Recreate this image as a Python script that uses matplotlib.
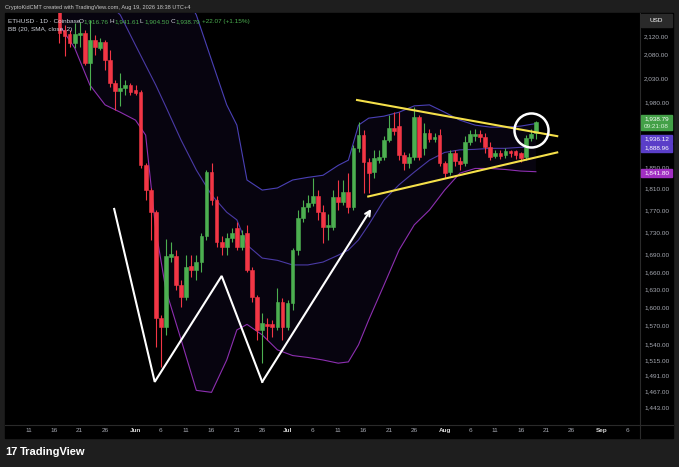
import matplotlib
matplotlib.use('Agg')
import matplotlib.pyplot as plt
import matplotlib.dates as mdates
from matplotlib.patches import Rectangle
from matplotlib.lines import Line2D
from matplotlib.ticker import FixedLocator, FixedFormatter, NullLocator
import numpy as np
import pandas as pd

plt.rcParams['font.family'] = ['Liberation Sans', 'DejaVu Sans']

# daily candles, 2026-05-17 .. 2026-08-19
start = '2026-05-17'
opens = [2185, 2133, 2124, 2105, 2122, 2127, 2061, 2111, 2094, 2107,
         2068, 2019, 2003, 2009, 2015, 2004, 2001, 1854, 1807, 1766,
         1582, 1568, 1686, 1687, 1637, 1617, 1670, 1663, 1677, 1723,
         1842, 1788, 1712, 1703, 1720, 1737, 1703, 1728, 1663, 1617,
         1563, 1573, 1572, 1568, 1609, 1568, 1607, 1698, 1755, 1776,
         1783, 1796, 1766, 1739, 1739, 1794, 1785, 1803, 1776, 1887,
         1913, 1860, 1841, 1864, 1870, 1903, 1927, 1931, 1874, 1858,
         1870, 1949, 1887, 1917, 1905, 1913, 1858, 1841, 1877, 1862,
         1858, 1899, 1911, 1915, 1909, 1890, 1872, 1877, 1874, 1881,
         1881, 1877, 1870, 1907, 1916.76]
closes = [2127, 2120, 2105, 2124, 2127, 2061, 2111, 2096, 2107, 2068,
          2019, 2003, 2009, 2015, 2001, 1998, 1854, 1807, 1766, 1582,
          1568, 1687, 1691, 1637, 1617, 1668, 1663, 1677, 1723, 1842,
          1788, 1712, 1703, 1720, 1728, 1703, 1725, 1663, 1617, 1563,
          1575, 1570, 1568, 1609, 1568, 1607, 1698, 1755, 1776, 1783,
          1796, 1766, 1739, 1743, 1794, 1785, 1803, 1776, 1887, 1913,
          1860, 1839, 1868, 1870, 1903, 1927, 1921, 1874, 1858, 1870,
          1949, 1870, 1917, 1905, 1909, 1858, 1839, 1877, 1862, 1856,
          1899, 1915, 1915, 1909, 1890, 1870, 1877, 1872, 1881, 1877,
          1874, 1868, 1907, 1915, 1938.79]
highs = [2195, 2144, 2133, 2149, 2151, 2133, 2155, 2122, 2116, 2111,
         2089, 2025, 2040, 2025, 2019, 2015, 2004, 1858, 1811, 1770,
         1587, 1718, 1712, 1698, 1646, 1689, 1689, 1689, 1728, 1845,
         1858, 1796, 1723, 1728, 1737, 1748, 1734, 1743, 1668, 1620,
         1591, 1582, 1579, 1632, 1616, 1612, 1702, 1770, 1788, 1798,
         1830, 1807, 1780, 1762, 1807, 1826, 1826, 1839, 1893, 1939,
         1923, 1868, 1884, 1884, 1911, 1953, 1960, 1960, 1879, 1877,
         1970, 1953, 1937, 1925, 1917, 1925, 1862, 1884, 1884, 1870,
         1911, 1923, 1925, 1923, 1917, 1899, 1884, 1884, 1887, 1884,
         1884, 1879, 1913, 1925, 1941.61]
lows = [2105, 2077, 2096, 2094, 2096, 2057, 2004, 2079, 2089, 2047,
        2011, 1963, 1972, 1994, 1994, 1994, 1848, 1788, 1716, 1535,
        1504, 1555, 1677, 1629, 1601, 1612, 1651, 1646, 1660, 1716,
        1780, 1703, 1690, 1690, 1712, 1698, 1698, 1660, 1609, 1547,
        1510, 1547, 1552, 1563, 1547, 1563, 1596, 1689, 1748, 1766,
        1778, 1752, 1711, 1716, 1734, 1770, 1780, 1765, 1770, 1879,
        1801, 1801, 1830, 1858, 1864, 1899, 1913, 1864, 1845, 1848,
        1864, 1864, 1874, 1899, 1899, 1852, 1830, 1836, 1852, 1845,
        1852, 1893, 1901, 1899, 1877, 1864, 1868, 1866, 1868, 1870,
        1866, 1860, 1864, 1901, 1904.50]

# Bollinger bands (20, SMA, close, 2)
band_dates = ['2026-05-17', '2026-05-20', '2026-05-23', '2026-05-26', '2026-05-29',
              '2026-06-01', '2026-06-03', '2026-06-05', '2026-06-07', '2026-06-10',
              '2026-06-13', '2026-06-16', '2026-06-19', '2026-06-21', '2026-06-23',
              '2026-06-26', '2026-06-29', '2026-07-02', '2026-07-05', '2026-07-08',
              '2026-07-11', '2026-07-13', '2026-07-15', '2026-07-17', '2026-07-20',
              '2026-07-23', '2026-07-26', '2026-07-29', '2026-08-01', '2026-08-04',
              '2026-08-07', '2026-08-10', '2026-08-13', '2026-08-16', '2026-08-19']
bb_upper = [2500, 2500, 2500, 2500, 2480, 2450, 2400, 2350, 2300, 2230,
            2167, 2068, 1974, 1933, 1826, 1807, 1811, 1826, 1831, 1835,
            1854, 1864, 1933, 1947, 1951, 1959, 1972, 1974, 1959, 1943,
            1933, 1929, 1929, 1931, 1936.12]
bb_basis = [2300, 2280, 2250, 2200, 2167, 2100, 2057, 2015, 1970, 1903,
            1845, 1798, 1766, 1752, 1707, 1684, 1680, 1672, 1672, 1677,
            1689, 1698, 1716, 1743, 1788, 1817, 1841, 1864, 1879, 1884,
            1885, 1887, 1887, 1889, 1888.96]
bb_lower = [2144, 2094, 2015, 1974, 1959, 1943, 1913, 1734, 1629, 1547,
            1468, 1465, 1515, 1563, 1572, 1555, 1531, 1522, 1519, 1515,
            1510, 1512, 1539, 1579, 1637, 1698, 1743, 1770, 1807, 1839,
            1848, 1848, 1846, 1843, 1841.80]

# drawings
w_dates = ['2026-05-27 19:00', '2026-06-04 19:00', '2026-06-18 00:00',
           '2026-06-26 00:00', '2026-07-17 12:00']
w_prices = [1772, 1481, 1653, 1481, 1772]
tri_top_dates = ['2026-07-14 17:00', '2026-08-23 05:00']
tri_top_prices = [1984, 1911]
tri_bot_dates = ['2026-07-16 22:00', '2026-08-23 05:00']
tri_bot_prices = [1795, 1879]
circle_date = '2026-08-17 23:00'
circle_price = 1924

price_ticks = [2120, 2080, 2030, 1980, 1850, 1810, 1770, 1730, 1690, 1660,
               1630, 1600, 1570, 1540, 1515, 1491, 1467, 1443]
date_ticks = ['2026-05-11', '2026-05-16', '2026-05-21', '2026-05-26', '2026-06-01',
              '2026-06-06', '2026-06-11', '2026-06-16', '2026-06-21', '2026-06-26',
              '2026-07-01', '2026-07-06', '2026-07-11', '2026-07-16', '2026-07-21',
              '2026-07-26', '2026-08-01', '2026-08-06', '2026-08-11', '2026-08-16',
              '2026-08-21', '2026-08-26', '2026-09-01', '2026-09-06']
date_labels = ['11', '16', '21', '26', 'Jun', '6', '11', '16', '21', '26',
               'Jul', '6', '11', '16', '21', '26', 'Aug', '6', '11', '16',
               '21', '26', 'Sep', '6']

GREEN = '#4caf50'
RED = '#f23645'
W, H = 679, 467


def fx(px):
    return px / W


def fy(py):
    return 1 - py / H


fig = plt.figure(figsize=(W / 100, H / 100), dpi=100, facecolor='#1e1e1e')
fig.patches.append(Rectangle((fx(5), fy(438)), fx(673) - fx(5), fy(13) - fy(438),
                             transform=fig.transFigure, color='black', zorder=-1))
ax = fig.add_axes([fx(5), fy(425), fx(640) - fx(5), fy(13) - fy(425)])
ax.set_facecolor('black')
for s in ax.spines.values():
    s.set_visible(False)

dates = pd.date_range(start, periods=len(opens), freq='D')
x = mdates.date2num(dates)
o = np.array(opens)
c = np.array(closes)
col = np.where(c >= o, GREEN, RED)

bx = mdates.date2num(pd.to_datetime(band_dates))
ax.fill_between(bx, bb_lower, bb_upper, color='#2a1a55', alpha=0.18, lw=0, zorder=1)
ax.plot(bx, bb_upper, color='#4a40b5', lw=0.8, zorder=2)
ax.plot(bx, bb_basis, color='#4a3aa5', lw=0.8, zorder=2)
ax.plot(bx, bb_lower, color='#8d2fb0', lw=0.8, zorder=2)

ax.vlines(x, lows, highs, colors=col, lw=0.8, zorder=3)
ax.bar(x, np.abs(c - o), width=0.74, bottom=np.minimum(o, c), color=col,
       edgecolor=col, linewidth=0.4, zorder=4)

# W pattern and arrow
wx = mdates.date2num(pd.to_datetime(w_dates))
ax.plot(wx[:-1], w_prices[:-1], color='white', lw=1.5, zorder=5, solid_joinstyle='miter')
ax.annotate('', xy=(wx[-1], w_prices[-1]), xytext=(wx[-2], w_prices[-2]),
            arrowprops=dict(arrowstyle='->', color='white', lw=1.5,
                            mutation_scale=9, shrinkA=0, shrinkB=0), zorder=5)

# triangle
ax.plot(mdates.date2num(pd.to_datetime(tri_top_dates)), tri_top_prices,
        color='#f5e04a', lw=1.5, zorder=5)
ax.plot(mdates.date2num(pd.to_datetime(tri_bot_dates)), tri_bot_prices,
        color='#f5e04a', lw=1.5, zorder=5)
ax.plot(mdates.date2num(pd.to_datetime(circle_date)), circle_price, marker='o',
        ms=24.5, mfc='none', mec='white', mew=1.8, zorder=6)

ax.set_yscale('log')
ax.set_ylim(1416.2, 2171.4)
ax.set_xlim(mdates.date2num(pd.Timestamp('2026-05-06 06:00')),
            mdates.date2num(pd.Timestamp('2026-09-08 13:00')))
ax.yaxis.set_major_locator(FixedLocator(price_ticks))
ax.yaxis.set_major_formatter(FixedFormatter([f'{p:,.2f}' for p in price_ticks]))
ax.yaxis.set_minor_locator(NullLocator())
ax.yaxis.tick_right()
ax.tick_params(axis='y', length=0, pad=3, labelsize=4.6, labelcolor='#a8abb4')

ax.xaxis.set_major_locator(FixedLocator(mdates.date2num(pd.to_datetime(date_ticks))))
ax.xaxis.set_major_formatter(FixedFormatter(date_labels))
ax.xaxis.set_minor_locator(NullLocator())
ax.tick_params(axis='x', length=0, pad=2.5, labelsize=4.6, labelcolor='#a8abb4')
for lab in ax.get_xticklabels():
    if lab.get_text() in ('Jun', 'Jul', 'Aug', 'Sep'):
        lab.set_fontweight('bold')
        lab.set_color('#d8d8d8')

# panel separators
fig.lines.append(Line2D([fx(5), fx(673)], [fy(425), fy(425)], transform=fig.transFigure,
                        color='#2a2a2a', lw=0.8))
fig.lines.append(Line2D([fx(640), fx(640)], [fy(13), fy(438)], transform=fig.transFigure,
                        color='#2a2a2a', lw=0.8))

# header / legend texts
fig.text(fx(5), fy(7), 'CryptoKidCMT created with TradingView.com, Aug 19, 2026 18:38 UTC+4',
         fontsize=4.1, color='#c8c8c8', va='center')
fig.text(fx(8), fy(21.5), 'ETHUSD · 1D · Coinbase', fontsize=4.6, color='#d1d4dc', va='center')
legend_parts = [(79, 'O', '1,916.76'), (110, 'H', '1,941.61'), (140, 'L', '1,904.50'),
                (171, 'C', '1,938.79')]
for px, k, v in legend_parts:
    fig.text(fx(px), fy(21.5), k, fontsize=4.6, color='#d1d4dc', va='center')
    fig.text(fx(px + 4), fy(21.5), v, fontsize=4.6, color=GREEN, va='center')
fig.text(fx(202), fy(21.5), '+22.07 (+1.15%)', fontsize=4.6, color=GREEN, va='center')
fig.text(fx(8), fy(29.5), 'BB (20, SMA, close, 2)', fontsize=4.6, color='#d1d4dc', va='center')


# price axis boxes
def price_box(y0, y1, color, lines):
    fig.patches.append(Rectangle((fx(641), fy(y1)), fx(672) - fx(641), fy(y0) - fy(y1),
                                 transform=fig.transFigure, color=color, zorder=2))
    for ty, t, tc in lines:
        fig.text(fx(656.5), fy(ty), t, fontsize=4.6, color=tc, ha='center', va='center',
                 zorder=3)


price_box(14, 27, '#2a2a2a', [(20.5, 'USD', 'white')])
price_box(115, 130, '#43a047', [(118.8, '1,938.79', 'white'), (126.3, '09:21:08', '#d9f2da')])
price_box(135, 143, '#5a3ec8', [(139, '1,936.12', 'white')])
price_box(144, 152, '#5a3ec8', [(148, '1,888.96', 'white')])
price_box(169, 177, '#a12fc2', [(173, '1,841.80', 'white')])

# bottom brand
fig.text(fx(5), fy(452), '17', fontsize=8, color='white', fontweight='bold', va='center')
fig.text(fx(20), fy(452), 'TradingView', fontsize=8, color='white', fontweight='bold',
         va='center')

fig.savefig('out.png', dpi=100, facecolor=fig.get_facecolor())
